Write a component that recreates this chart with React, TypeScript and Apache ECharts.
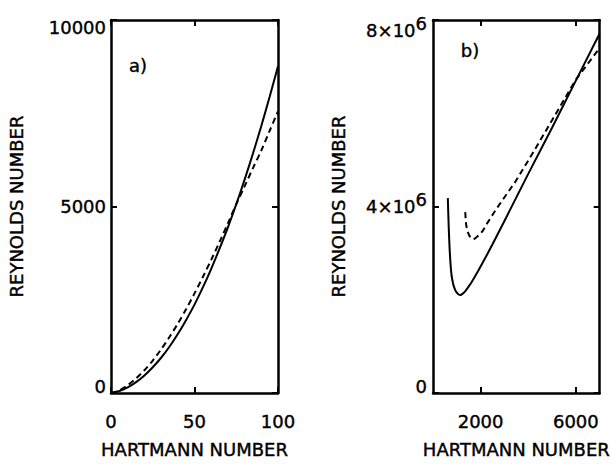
import React, { useEffect, useRef } from 'react';
import * as echarts from 'echarts';

// Panel a)
const hartmannA = [0, 5, 10, 15, 20, 25, 30, 35, 40, 45, 50, 55, 60, 65, 70, 75, 80, 85, 90, 95, 100];
const reynoldsASolid = [0, 55, 150, 290, 470, 690, 945, 1240, 1580, 1960, 2370, 2830, 3330, 3870, 4440, 5060, 5720, 6420, 7160, 7940, 8760];
const reynoldsADashed = [0, 70, 210, 390, 610, 870, 1170, 1500, 1860, 2250, 2670, 3110, 3570, 4050, 4550, 5060, 5540, 6030, 6500, 7030, 7550];

// Panel b)
const hartmannBSolid = [623, 640, 660, 680, 700, 725, 750, 780, 820, 870, 930, 1000, 1080, 1160, 1250, 1350, 1450, 1600, 1750, 1900, 2050, 2250, 2500, 3000, 4000, 5000, 6000, 7000];
const reynoldsBSolid = [4.18e6, 3.88e6, 3.56e6, 3.3e6, 3.07e6, 2.85e6, 2.67e6, 2.52e6, 2.4e6, 2.29e6, 2.21e6, 2.15e6, 2.11e6, 2.1e6, 2.13e6, 2.18e6, 2.25e6, 2.36e6, 2.49e6, 2.62e6, 2.76e6, 2.95e6, 3.19e6, 3.69e6, 4.7e6, 5.69e6, 6.7e6, 7.71e6];
const hartmannBDashed = [1355, 1375, 1400, 1455, 1530, 1600, 1670, 1750, 1850, 1950, 2080, 2300, 2550, 2800, 3100, 3470, 4160, 5000, 5700, 6000, 6500, 7000];
const reynoldsBDashed = [3.88e6, 3.7e6, 3.58e6, 3.46e6, 3.37e6, 3.32e6, 3.3e6, 3.31e6, 3.35e6, 3.4e6, 3.47e6, 3.66e6, 3.86e6, 4.05e6, 4.27e6, 4.54e6, 5.12e6, 5.85e6, 6.46e6, 6.72e6, 7.06e6, 7.4e6];

const xTicksA = [0, 50, 100];
const yTicksA = [0, 5000, 10000];
const xTicksB = [2000, 6000];
const yTicksB = [0, 4e6, 8e6];

const FONT = 'DejaVu Sans';
const FS = 18;
const BLACK = '#000';
const TB = 0.4;

const zip = (xs: number[], ys: number[]) => xs.map((x, i) => [x, ys[i]]);

const lineStyleAxis = { color: BLACK, width: 2.5 };
const tickStyle = { show: true, inside: true, length: 6, lineStyle: { color: BLACK, width: 2 } };

export default function App() {
  const ref = useRef<HTMLDivElement>(null);
  useEffect(() => {
    if (!ref.current) return;
    const chart = echarts.init(ref.current, undefined, { renderer: 'svg' });
    const tok = (extra: any) => ({
      fontSize: FS, fontFamily: FONT, color: BLACK, lineHeight: 18, verticalAlign: 'middle',
      textBorderColor: BLACK, textBorderWidth: TB, ...extra,
    });
    const baseRich = {
      n: tok({}),
      top: tok({ padding: [14, 0, 0, 0] }),
      bot: tok({ padding: [0, 0, 14, 0] }),
      s: tok({ padding: [0, 0, 14, 0] }),
      a8: tok({ padding: [20, 0, 0, 0] }),
      s8: tok({ padding: [6, 0, 0, 0] }),
    };
    const textStyle = { fontSize: FS, fontFamily: FONT, color: BLACK, textBorderColor: BLACK, textBorderWidth: TB };
    const option: any = {
      animation: false,
      backgroundColor: '#fff',
      grid: [
        { left: 111, top: 20, width: 167, height: 373 },
        { left: 433, top: 20, width: 169, height: 373 },
      ],
      xAxis: [
        {
          type: 'value', gridIndex: 0, min: 0, max: 100, interval: 50, position: 'bottom',
          axisLine: { show: true, onZero: false, lineStyle: lineStyleAxis },
          axisTick: { ...tickStyle, customValues: xTicksA },
          axisLabel: { customValues: xTicksA, ...textStyle, margin: 19, formatter: (v: number) => String(v) },
          splitLine: { show: false },
          name: 'HARTMANN NUMBER', nameLocation: 'middle', nameGap: 47, nameTextStyle: textStyle,
        },
        {
          type: 'value', gridIndex: 0, min: 0, max: 100, interval: 50, position: 'top',
          axisLine: { show: true, onZero: false, lineStyle: lineStyleAxis },
          axisTick: { ...tickStyle, customValues: xTicksA },
          axisLabel: { show: false }, splitLine: { show: false },
        },
        {
          type: 'value', gridIndex: 1, min: 0, max: 7000, position: 'bottom',
          axisLine: { show: true, onZero: false, lineStyle: lineStyleAxis },
          axisTick: { ...tickStyle, customValues: xTicksB },
          axisLabel: { customValues: xTicksB, ...textStyle, margin: 19, formatter: (v: number) => String(v) },
          splitLine: { show: false },
          name: 'HARTMANN NUMBER', nameLocation: 'middle', nameGap: 47, nameTextStyle: textStyle,
        },
        {
          type: 'value', gridIndex: 1, min: 0, max: 7000, position: 'top',
          axisLine: { show: true, onZero: false, lineStyle: lineStyleAxis },
          axisTick: { ...tickStyle, customValues: xTicksB },
          axisLabel: { show: false }, splitLine: { show: false },
        },
      ],
      yAxis: [
        {
          type: 'value', gridIndex: 0, min: 0, max: 10000, interval: 5000, position: 'left',
          axisLine: { show: true, onZero: false, lineStyle: lineStyleAxis },
          axisTick: { ...tickStyle, customValues: yTicksA },
          axisLabel: {
            customValues: yTicksA, margin: 5, ...textStyle,
            formatter: (v: number) => (v === 10000 ? '{top|10000}' : v === 0 ? '{bot|0}' : `{n|${v}}`),
            rich: baseRich,
          },
          splitLine: { show: false },
          name: 'REYNOLDS NUMBER', nameLocation: 'middle', nameGap: 86, nameRotate: 90, nameTextStyle: textStyle,
        },
        {
          type: 'value', gridIndex: 0, min: 0, max: 10000, interval: 5000, position: 'right',
          axisLine: { show: true, onZero: false, lineStyle: lineStyleAxis },
          axisTick: { ...tickStyle, customValues: yTicksA },
          axisLabel: { show: false }, splitLine: { show: false },
        },
        {
          type: 'value', gridIndex: 1, min: 0, max: 8e6, interval: 4e6, position: 'left',
          axisLine: { show: true, onZero: false, lineStyle: lineStyleAxis },
          axisTick: { ...tickStyle, customValues: yTicksB },
          axisLabel: {
            customValues: yTicksB, margin: 6, ...textStyle,
            formatter: (v: number) =>
              v === 0 ? '{bot|0}' : v === 8e6 ? `{a8|${v / 1e6}×10}{s8|6}` : `{n|${v / 1e6}×10}{s|6}`,
            rich: baseRich,
          },
          splitLine: { show: false },
          name: 'REYNOLDS NUMBER', nameLocation: 'middle', nameGap: 86, nameRotate: 90, nameTextStyle: textStyle,
        },
        {
          type: 'value', gridIndex: 1, min: 0, max: 8e6, interval: 4e6, position: 'right',
          axisLine: { show: true, onZero: false, lineStyle: lineStyleAxis },
          axisTick: { ...tickStyle, customValues: yTicksB },
          axisLabel: { show: false }, splitLine: { show: false },
        },
      ],
      series: [
        {
          type: 'line', xAxisIndex: 0, yAxisIndex: 0, data: zip(hartmannA, reynoldsASolid),
          showSymbol: false, smooth: 0.3, lineStyle: { color: BLACK, width: 2 },
        },
        {
          type: 'line', xAxisIndex: 0, yAxisIndex: 0, data: zip(hartmannA, reynoldsADashed),
          showSymbol: false, smooth: 0.3, lineStyle: { color: BLACK, width: 2, type: [6, 4] },
        },
        {
          type: 'line', xAxisIndex: 2, yAxisIndex: 2, data: zip(hartmannBSolid, reynoldsBSolid),
          showSymbol: false, smooth: false, lineStyle: { color: BLACK, width: 2 },
        },
        {
          type: 'line', xAxisIndex: 2, yAxisIndex: 2, data: zip(hartmannBDashed, reynoldsBDashed),
          showSymbol: false, smooth: false, lineStyle: { color: BLACK, width: 2, type: [6, 4] },
        },
      ],
      graphic: [
        {
          type: 'text', x: 138, y: 65,
          style: { text: 'a)', fontSize: FS, fontFamily: FONT, fill: BLACK, stroke: BLACK, lineWidth: TB, textAlign: 'center', textVerticalAlign: 'middle' },
        },
        {
          type: 'text', x: 470, y: 50,
          style: { text: 'b)', fontSize: FS, fontFamily: FONT, fill: BLACK, stroke: BLACK, lineWidth: TB, textAlign: 'center', textVerticalAlign: 'middle' },
        },
      ],
    };
    chart.setOption(option);
    return () => chart.dispose();
  }, []);
  return (
    <div
      ref={ref}
      style={{ position: 'fixed', left: 0, top: 0, width: 613, height: 464, background: '#fff' }}
    />
  );
}
